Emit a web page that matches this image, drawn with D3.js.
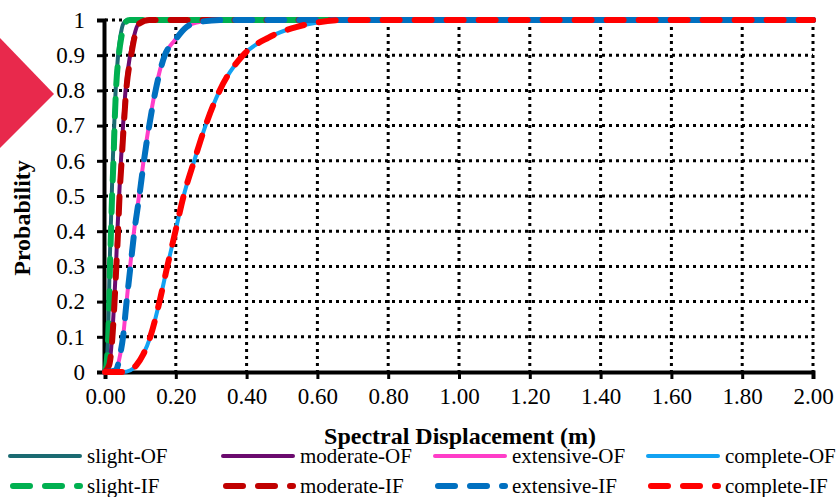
<!DOCTYPE html>
<html lang="en">
<head>
<meta charset="utf-8">
<title>Fragility curves</title>
<script src="https://cdn.jsdelivr.net/npm/d3@7"></script>
<style>
  body { margin:0; background:#fff; }
  svg text { font-family:"Liberation Serif","Times New Roman",serif; fill:#000; }
</style>
</head>
<body>
<div id="chart"></div>
<script>
// ticks
var xTicks = [0,0.2,0.4,0.6,0.8,1.0,1.2,1.4,1.6,1.8,2.0]
var yTicks = [0,0.1,0.2,0.3,0.4,0.5,0.6,0.7,0.8,0.9,1]

// curves: [displacement, probability]
var slightOF = [[0,0],[0.004,0.02],[0.0085,0.1],[0.011,0.2],[0.013,0.3],[0.016,0.4],[0.019,0.5],[0.022,0.6],[0.026,0.7],[0.030,0.8],[0.037,0.9],[0.043,0.95],[0.052,0.99],[0.065,1],[2,1]]
var moderateOF = [[0,0],[0.012,0.02],[0.020,0.1],[0.026,0.2],[0.031,0.3],[0.035,0.4],[0.040,0.5],[0.045,0.6],[0.051,0.7],[0.058,0.8],[0.071,0.9],[0.081,0.95],[0.095,0.99],[0.12,1],[2,1]]
var extensiveOF = [[0,0],[0.03,0.005],[0.043,0.05],[0.051,0.1],[0.061,0.2],[0.071,0.3],[0.082,0.4],[0.096,0.5],[0.109,0.6],[0.124,0.7],[0.142,0.8],[0.168,0.9],[0.195,0.94],[0.23,0.98],[0.27,0.995],[0.34,1],[2,1]]
var completeOF = [[0,0],[0.05,0],[0.072,0.005],[0.089,0.02],[0.108,0.05],[0.128,0.1],[0.154,0.2],[0.176,0.3],[0.199,0.4],[0.222,0.5],[0.252,0.6],[0.284,0.7],[0.324,0.8],[0.390,0.9],[0.462,0.95],[0.54,0.98],[0.60,0.993],[0.68,1],[2,1]]

var slightIF = [[0,0],[0.004,0.02],[0.009,0.1],[0.012,0.2],[0.014,0.3],[0.017,0.4],[0.020,0.5],[0.024,0.6],[0.027,0.7],[0.031,0.8],[0.039,0.9],[0.046,0.95],[0.055,0.99],[0.07,1],[2,1]]
var moderateIF = [[0,0],[0.012,0.02],[0.021,0.1],[0.027,0.2],[0.032,0.3],[0.037,0.4],[0.041,0.5],[0.047,0.6],[0.053,0.7],[0.060,0.8],[0.074,0.9],[0.083,0.95],[0.097,0.99],[0.125,1],[2,1]]
var extensiveIF = [[0,0],[0.03,0.005],[0.043,0.05],[0.051,0.1],[0.061,0.2],[0.072,0.3],[0.083,0.4],[0.097,0.5],[0.110,0.6],[0.125,0.7],[0.143,0.8],[0.169,0.9],[0.196,0.94],[0.23,0.98],[0.27,0.995],[0.34,1],[2,1]]
var completeIF = [[0,0],[0.05,0],[0.072,0.005],[0.089,0.02],[0.108,0.05],[0.128,0.1],[0.154,0.2],[0.176,0.3],[0.199,0.4],[0.222,0.5],[0.252,0.6],[0.284,0.7],[0.324,0.8],[0.390,0.9],[0.462,0.95],[0.54,0.98],[0.60,0.993],[0.68,1],[2,1]]

var seriesNames = ["slight-OF","moderate-OF","extensive-OF","complete-OF","slight-IF","moderate-IF","extensive-IF","complete-IF"]
var seriesData = [slightOF,moderateOF,extensiveOF,completeOF,slightIF,moderateIF,extensiveIF,completeIF]
var seriesColors = ["#1b6b72","#6b0a6e","#ff3dc8","#12a2f2","#00b050","#c00000","#0070c0","#ff0000"]

var W = 838, H = 497
var plotL = 105, plotR = 813, plotT = 20, plotB = 372
var serif = "'Liberation Serif','Times New Roman',serif"

var svg = d3.select("#chart").append("svg").attr("width",W).attr("height",H)
svg.append("rect").attr("width",W).attr("height",H).attr("fill","#fff")

// decorative marker at left
svg.append("polygon").attr("points","0,38 54,94 0,148").attr("fill","#e8294c")

var x = d3.scaleLinear().domain([0,2]).range([plotL,plotR])
var y = d3.scaleLinear().domain([0,1]).range([plotB,plotT])

// dotted grid
svg.selectAll(".vgrid").data(xTicks.slice(1)).enter().append("line")
  .attr("class","vgrid")
  .attr("x1",function(d){return x(d)}).attr("x2",function(d){return x(d)})
  .attr("y1",plotT).attr("y2",plotB)
  .attr("stroke","#000").attr("stroke-width",3).attr("stroke-dasharray","3,4")
svg.selectAll(".hgrid").data(yTicks.slice(1)).enter().append("line")
  .attr("class","hgrid")
  .attr("y1",function(d){return y(d)}).attr("y2",function(d){return y(d)})
  .attr("x1",plotL).attr("x2",plotR)
  .attr("stroke","#000").attr("stroke-width",3).attr("stroke-dasharray","3,4")

// axes
var xAxis = svg.append("g").attr("transform","translate(0,"+plotB+")")
  .call(d3.axisBottom(x).tickValues(xTicks).tickFormat(d3.format(".2f")).tickSize(7).tickPadding(9))
var yAxis = svg.append("g").attr("transform","translate("+(plotL-1)+",0)")
  .call(d3.axisLeft(y).tickValues(yTicks).tickFormat(function(d){return d===0||d===1?String(d):d.toFixed(1)}).tickSize(7).tickPadding(12))
;[xAxis,yAxis].forEach(function(g){
  g.select(".domain").attr("stroke","#000").attr("stroke-width",4)
  g.selectAll(".tick line").attr("stroke","#000").attr("stroke-width",3)
  g.selectAll(".tick text").style("font-family",serif).style("font-size","23px")
})

// curves
var line = d3.line().x(function(d){return x(d[0])}).y(function(d){return y(d[1])}).curve(d3.curveMonotoneX)
seriesData.forEach(function(data,i){
  var dashed = i>=4
  svg.append("path").datum(data)
    .attr("d",line)
    .attr("fill","none")
    .attr("stroke",seriesColors[i])
    .attr("stroke-width",dashed?6:4)
    .attr("stroke-linecap","round")
    .attr("stroke-dasharray",dashed?"17,15":null)
})

// axis titles
svg.append("text").attr("x",460).attr("y",444).attr("text-anchor","middle")
  .style("font-size","24px").attr("font-weight","bold")
  .text("Spectral Displacement (m)")
svg.append("text").attr("transform","translate(30,218) rotate(-90)").attr("text-anchor","middle")
  .style("font-size","24px").attr("font-weight","bold").text("Probability")

// legend
var legX = [10,223,435,648]
var legY = [456,486]
seriesNames.forEach(function(name,i){
  var col = i%4, row = Math.floor(i/4)
  var g = svg.append("g").attr("transform","translate("+legX[col]+","+legY[row]+")")
  g.append("line").attr("x1",row?3:0).attr("x2",70).attr("y1",0).attr("y2",0)
    .attr("stroke",seriesColors[i]).attr("stroke-width",row?6:4).attr("stroke-linecap","round")
    .attr("stroke-dasharray",row?"17,15":null)
  g.append("text").attr("x",77).attr("y",7).style("font-size","21px").text(name)
})
</script>
</body>
</html>
